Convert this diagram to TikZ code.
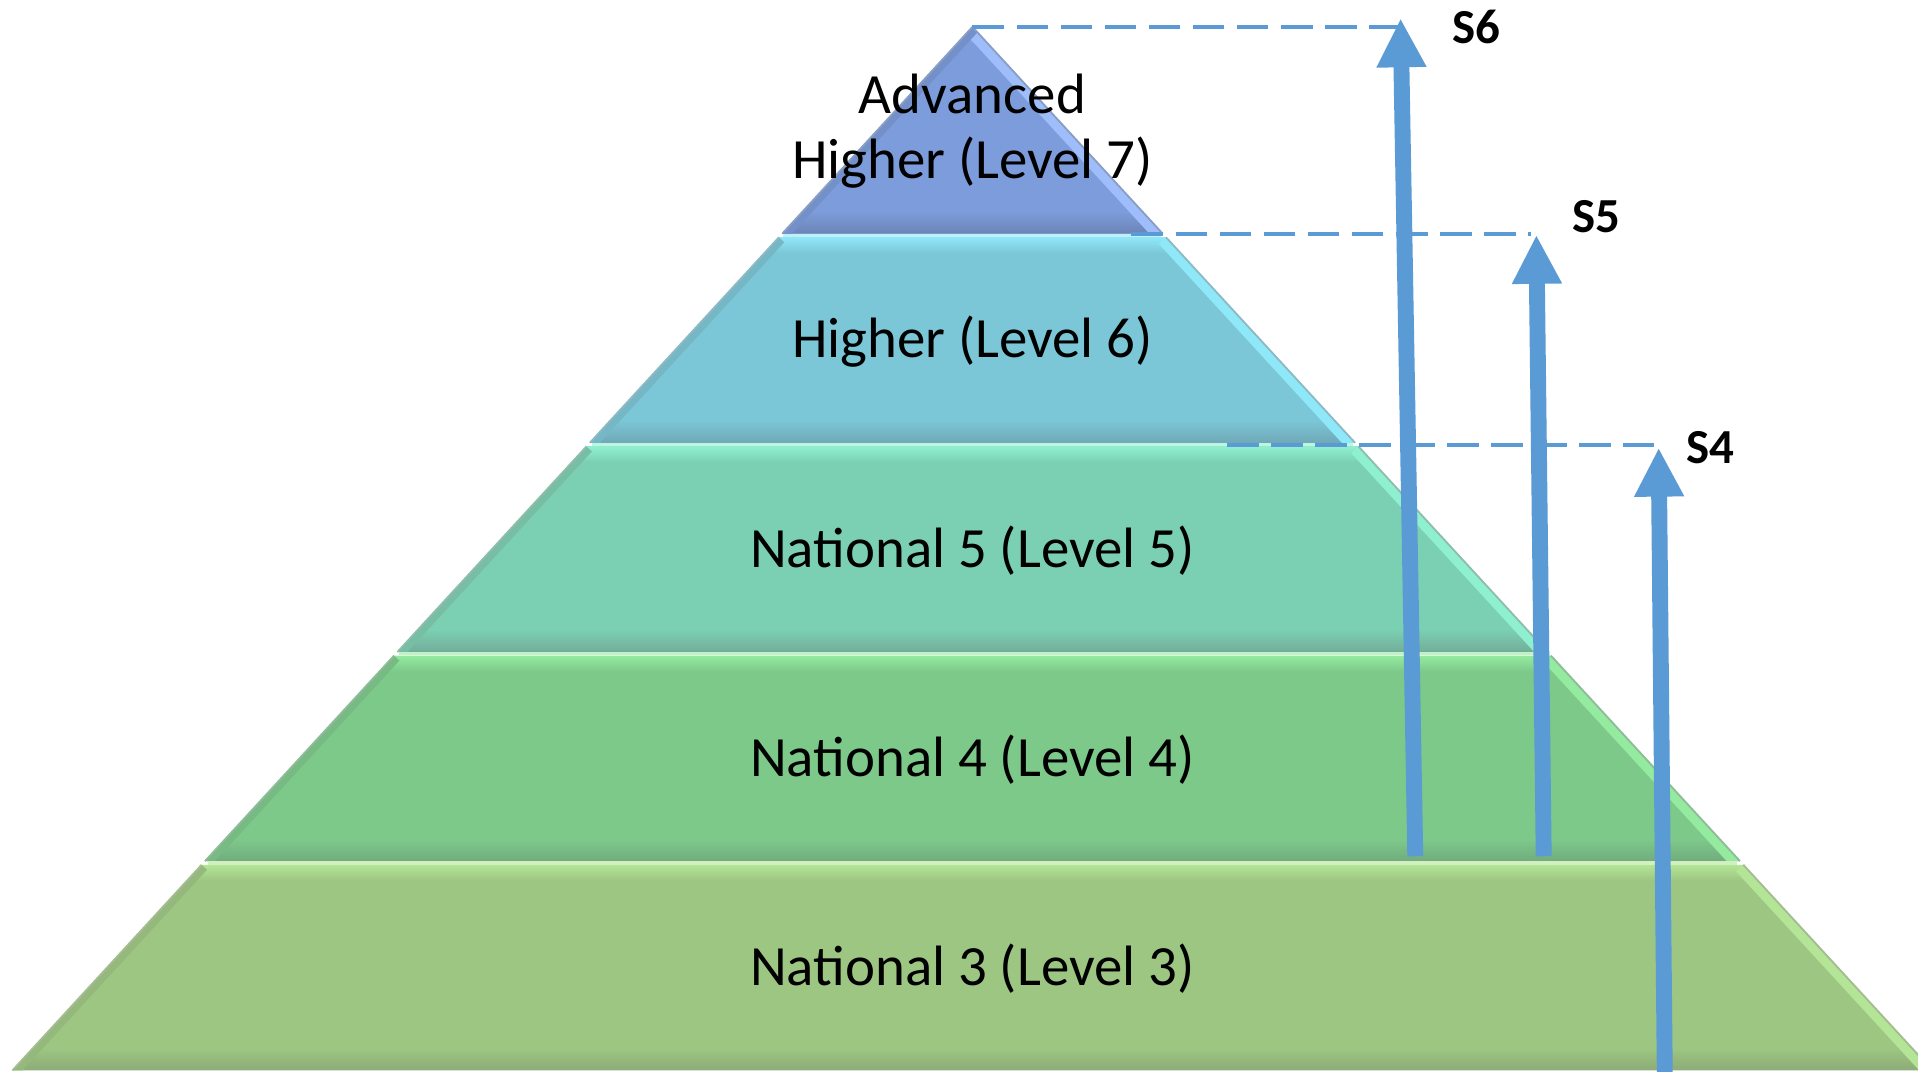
\documentclass[tikz,border=0pt]{standalone}
\usepackage{fontspec}
\setmainfont{Carlito}
\usetikzlibrary{arrows.meta}
\definecolor{arrblue}{RGB}{91,155,213}
\definecolor{ahMain}{HTML}{7C9CDB}\definecolor{ahLight}{HTML}{9EBDFA}\definecolor{ahDark}{HTML}{6C84B6}
\definecolor{hMain}{HTML}{7BC6D7}\definecolor{hLight}{HTML}{8FE8F8}\definecolor{hDark}{HTML}{70A8B6}
\definecolor{n5Main}{HTML}{7BCFB3}\definecolor{n5Light}{HTML}{8FF0D0}\definecolor{n5Dark}{HTML}{72AD98}
\definecolor{n4Main}{HTML}{7DC98A}\definecolor{n4Light}{HTML}{94EA9F}\definecolor{n4Dark}{HTML}{72AB7E}
\definecolor{n3Main}{HTML}{9DC682}\definecolor{n3Light}{HTML}{B4E596}\definecolor{n3Dark}{HTML}{8DAB77}
\tikzset{
  lvl/.style={font=\fontsize{46.5}{53}\selectfont, text=black, align=center, inner sep=0pt},
  slab/.style={font=\bfseries\fontsize{40}{42}\selectfont, text=black, inner sep=0pt},
  guide/.style={arrblue, line width=3.2pt, dash pattern=on 26pt off 10pt},
  yeararrow/.style={arrblue, line width=13pt, -{Triangle[width=38pt,length=40pt]}}
}
\newcommand{\pyrtier}[5]{%
  \pgfmathsetmacro{\tlx}{795-0.92*(#1-22)}%
  \pgfmathsetmacro{\trx}{795+0.92*(#1-22)}%
  \pgfmathsetmacro{\blx}{795-0.92*(#2-22)}%
  \pgfmathsetmacro{\brx}{795+0.92*(#2-22)}%
  \begin{scope}
    \clip (\tlx,#1) -- (\trx,#1) -- (\brx,#2) -- (\blx,#2) -- cycle;
    \fill[#3] (0,#1) rectangle (1700,#2);
    \shade[top color=#4, bottom color=#3] (0,#1) rectangle (1700,#1+13);
    \shade[top color=#3, bottom color=#5] (0,#2-18) rectangle (1700,#2);
    \draw[#4, line width=16pt] (\trx,#1) -- (\brx,#2);
    \draw[#5!50!#3, line width=12pt] (\tlx,#1) -- (\blx,#2);
  \end{scope}
  \draw[#5!80!white, line width=1.5pt] (\tlx,#1) -- (\blx,#2) (\trx,#1) -- (\brx,#2);
}
\begin{document}
\begin{tikzpicture}[x=1pt,y=-1pt]
\clip (0,0) rectangle (1568,875.6);
\fill[white] (0,0) rectangle (1568,875.6);
% tiers
\pyrtier{22}{191}{ahMain}{ahLight}{ahDark}
\pyrtier{194}{362}{hMain}{hLight}{hDark}
\pyrtier{365}{533}{n5Main}{n5Light}{n5Dark}
\pyrtier{536}{704}{n4Main}{n4Light}{n4Dark}
\pyrtier{707}{875}{n3Main}{n3Light}{n3Dark}
% separators
\draw[hLight!60!white, line width=2.5pt] (640.5,192.5) -- (949.5,192.5);
\draw[n5Light!60!white, line width=2.5pt] (484,363.5) -- (1106,363.5);
\draw[n4Light!60!white, line width=2.5pt] (326,534.5) -- (1264,534.5);
\draw[n3Light!60!white, line width=2.5pt] (170,705.5) -- (1420,705.5);
% texts
\node[lvl] (t7) at (795,107) {Advanced\\Higher (Level 7)};
\node[lvl] (t6) at (795,279) {Higher (Level 6)};
\node[lvl] (t5) at (795,450) {National 5 (Level 5)};
\node[lvl] (t4) at (795,621) {National 4 (Level 4)};
\node[lvl] (t3) at (795,792) {National 3 (Level 3)};
% coordinates
\coordinate (apex) at (795,22);
\coordinate (g5) at (925,191);
\coordinate (g4) at (1003,364);
\coordinate (s6b) at (1157,700);
\coordinate (s6t) at (1145,15);
\coordinate (s5b) at (1262,700);
\coordinate (s5t) at (1256,192);
\coordinate (s4b) at (1361,880);
\coordinate (s4t) at (1356,366);
% guides
\draw[guide] (apex) -- (s6t |- apex);
\draw[guide] (g5) -- (1252,191);
\draw[guide] (g4) -- (1352,364);
% arrows
\draw[yeararrow] (s6b) -- (s6t);
\draw[yeararrow] (s5b) -- (s5t);
\draw[yeararrow] (s4b) -- (s4t);
% labels
\node[slab] (l6) at (1207,22) {S6};
\node[slab] (l5) at (1305,177) {S5};
\node[slab] (l4) at (1398,366) {S4};
\end{tikzpicture}
\end{document}
